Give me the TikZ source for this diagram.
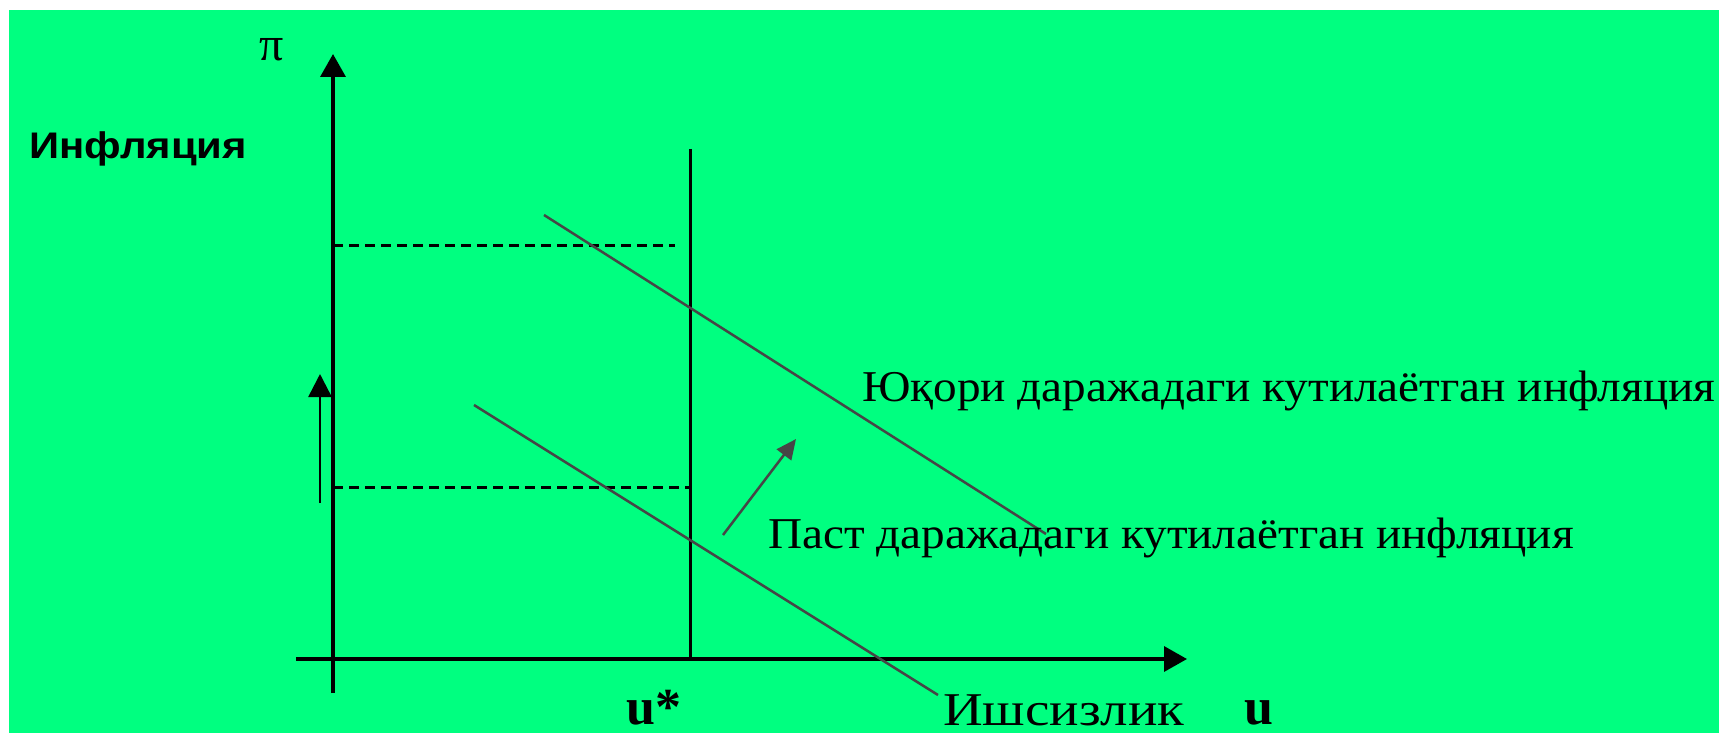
\documentclass[tikz,border=0pt]{standalone}
\usepackage{fontspec}
\setmainfont{Liberation Serif}
\newfontfamily\labelsans{Liberation Sans}
\usetikzlibrary{arrows.meta}
\definecolor{bggreen}{RGB}{0,255,128}
\definecolor{curvegray}{RGB}{70,70,70}
\tikzset{
  axis/.style={line width=3.5pt, -{Triangle[length=23pt,width=25pt]}},
  guide/.style={line width=3pt, dash pattern=on 10pt off 6pt},
  curve/.style={line width=2.5pt, draw=curvegray},
  risearrow/.style={line width=2.5pt, -{Triangle[length=23pt,width=23pt]}},
  caption/.style={inner sep=0pt, anchor=base west, font=\fontsize{44}{50}\selectfont},
  letter/.style={inner sep=0pt, anchor=base west, font=\bfseries\fontsize{52}{56}\selectfont},
}

\begin{document}
\begin{tikzpicture}[x=1pt,y=-1pt]
\useasboundingbox (0,0) rectangle (1719,733);
\fill[white] (0,0) rectangle (1719,733);
\fill[bggreen] (9,10) rectangle (1719,733);
\coordinate (yb) at (333,693); \coordinate (yt) at (333,54);
\coordinate (xl) at (296,659); \coordinate (xr) at (1187,659);
\coordinate (nt) at (690,149); \coordinate (nb) at (690,659);
\coordinate (hy) at (333,245); \coordinate (hx) at (675,245);
\coordinate (ly) at (333,487); \coordinate (lx) at (690,487);
\coordinate (hs) at (544,215); \coordinate (he) at (1046,534);
\coordinate (ls) at (474,405); \coordinate (le) at (938,695);
\coordinate (ra) at (320,503); \coordinate (rb) at (320,374);
\coordinate (sa) at (723,535); \coordinate (sb) at (796,439);
\draw[axis] (yb) to (yt);
\draw[axis] (xl) to (xr);
\draw[line width=3pt] (nt) to (nb);
\draw[guide] (hy) to (hx);
\draw[guide] (ly) to (lx);
\draw[curve] (hs) to (he);
\draw[curve] (ls) to (le);
\draw[risearrow] (ra) to (rb);
\draw[risearrow, draw=curvegray, -{Triangle[length=20pt,width=18pt]}] (sa) to (sb);
\node[inner sep=0pt, font=\fontsize{48}{50}\selectfont] (pi) at (272,50) {π};
\node[inner sep=0pt, anchor=base west, font=\labelsans\bfseries\fontsize{37}{40}\selectfont] (infl) at (29,158) {\scalebox{1.13}[1]{Инфляция}};
\node[caption] (high) at (862,401) {\scalebox{1.073}[1]{Юқори даражадаги кутилаётган инфляция}};
\node[caption] (low) at (768,548) {\scalebox{1.073}[1]{Паст даражадаги кутилаётган инфляция}};
\node[caption, font=\fontsize{47}{50}\selectfont] (unemp) at (943,725) {\scalebox{1.17}[1]{Ишсизлик}};
\node[letter] (ustar) at (626,724) {u*};
\node[letter] (u) at (1244,724) {u};
\end{tikzpicture}
\end{document}
